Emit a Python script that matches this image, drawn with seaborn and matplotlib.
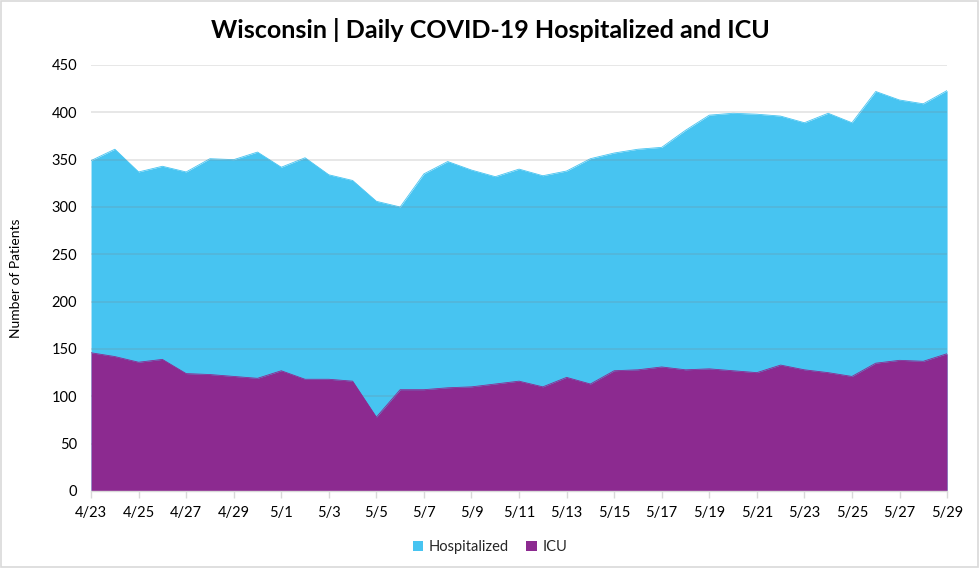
import matplotlib
matplotlib.use("Agg")
import matplotlib.pyplot as plt
from matplotlib.patches import Rectangle, Patch
import seaborn as sns
import pandas as pd
import numpy as np

dates = ["4/23", "4/24", "4/25", "4/26", "4/27", "4/28", "4/29", "4/30",
         "5/1", "5/2", "5/3", "5/4", "5/5", "5/6", "5/7", "5/8", "5/9", "5/10",
         "5/11", "5/12", "5/13", "5/14", "5/15", "5/16", "5/17", "5/18", "5/19",
         "5/20", "5/21", "5/22", "5/23", "5/24", "5/25", "5/26", "5/27", "5/28", "5/29"]
hospitalized = [349, 361, 337, 343, 337, 351, 350, 358, 342, 352, 334, 328, 306,
                300, 335, 348, 339, 332, 340, 333, 338, 351, 357, 361, 363, 381,
                397, 399, 398, 396, 389, 399, 389, 422, 413, 409, 423]
icu = [146, 142, 136, 139, 124, 123, 121, 119, 127, 118, 118, 116, 78,
       107, 107, 109, 110, 113, 116, 110, 120, 113, 127, 128, 131, 128,
       129, 127, 125, 133, 128, 125, 121, 135, 138, 137, 145]
y_ticks = [0, 50, 100, 150, 200, 250, 300, 350, 400, 450]

hosp_color = "#47C4F1"
icu_color = "#8C2A90"

df = pd.DataFrame({"day": np.arange(len(dates)), "Hospitalized": hospitalized, "ICU": icu})

sns.set_style("white")
plt.rcParams["font.family"] = ["Lato", "DejaVu Sans"]

fig = plt.figure(figsize=(9.8, 5.68), dpi=100)
ax = fig.add_axes([0.0929, 0.1356, 0.8735, 0.75])

ax.fill_between(df["day"], 0, df["Hospitalized"], color=hosp_color, linewidth=0, zorder=1)
sns.lineplot(data=df, x="day", y="Hospitalized", color=hosp_color, linewidth=0.6, ax=ax, zorder=1.1)
for yv in y_ticks[1:]:
    ax.axhline(yv, color="#7F7F7F", linewidth=1.2, alpha=0.22, zorder=1.5)
ax.fill_between(df["day"], 0, df["ICU"], color=icu_color, linewidth=0, zorder=2)
sns.lineplot(data=df, x="day", y="ICU", color=icu_color, linewidth=0.6, ax=ax, zorder=2.1)

ax.set_xlim(0, len(dates) - 1)
ax.set_ylim(0, 450)
ax.set_yticks(y_ticks)
ax.set_xticks(df["day"][::2])
ax.set_xticklabels(dates[::2])
ax.grid(False)
for s in ["top", "right", "left"]:
    ax.spines[s].set_visible(False)
ax.spines["bottom"].set_color("#D9D9D9")
ax.spines["bottom"].set_linewidth(1)
ax.spines["bottom"].set_zorder(3)
ax.tick_params(axis="x", which="major", length=5, color="#D9D9D9", width=1,
               labelsize=10.5, pad=6, labelcolor="#000000", bottom=True)
ax.tick_params(axis="y", length=0, labelsize=10.5, pad=10, labelcolor="#000000")
ax.set_xlabel("")
ax.set_ylabel("Number of Patients", fontsize=10, labelpad=21, color="#000000")

fig.text(0.5, 0.948, "Wisconsin | Daily COVID-19 Hospitalized and ICU",
         ha="center", va="center", fontsize=18, fontweight="bold", color="#000000")

handles = [Patch(facecolor=hosp_color, edgecolor="none", label="Hospitalized"),
           Patch(facecolor=icu_color, edgecolor="none", label="ICU")]
fig.legend(handles=handles, loc="center", bbox_to_anchor=(0.5, 0.037), ncol=2,
           frameon=False, fontsize=10.5, handlelength=0.7, handleheight=0.7,
           handletextpad=0.4, columnspacing=1.2)

fig.patches.append(Rectangle((0.001, 0.001), 0.997, 0.997, transform=fig.transFigure,
                             fill=False, edgecolor="#D9D9D9", linewidth=1.2))

fig.savefig("out.png", dpi=100, facecolor="white")
